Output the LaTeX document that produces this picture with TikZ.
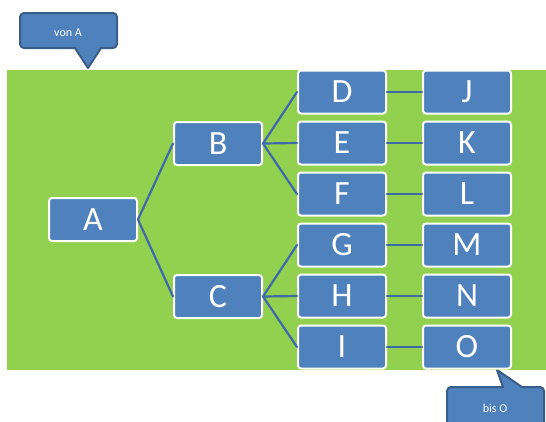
\documentclass[tikz,border=0pt]{standalone}
\usepackage{fontspec}
\setmainfont{Carlito}
\usepackage{tikz}
\definecolor{gruen}{HTML}{92D050}
\definecolor{blau}{HTML}{4F81BD}
\definecolor{dunkelblau}{HTML}{385D8A}
\definecolor{linienblau}{RGB}{65,105,170}
\tikzset{
  kasten/.style={draw=white,line width=2pt,fill=blau,rounded corners=3pt,
    minimum width=88pt,minimum height=43pt,inner sep=0pt,text=white,
    font=\fontsize{34}{36}\selectfont},
  linie/.style={draw=linienblau,line width=2.2pt},
  sprechblase/.style={draw=dunkelblau,fill=blau,line width=2pt}
}
\begin{document}
\begin{tikzpicture}[line cap=round,line join=round,x=1pt,y=-1pt]

		\clip (0,0) rectangle (546,421);

		%Hintergrund
		\fill[gruen] (7,70) rectangle (546,370);

		%Sprechblasen
		\draw[sprechblase] (88,68) -- (101,48) [rounded corners=4pt] -- (117,48) -- (117,13) -- (20,13) -- (20,48) [sharp corners] -- (75,48) -- cycle;
		\node[text=white,font=\fontsize{12}{14}\selectfont] (vonA) at (68,33) {von A};

		\draw[sprechblase] (497,370) -- (522,387) [rounded corners=4pt] -- (544,387) -- (544,440) -- (447,440) -- (447,387) [sharp corners] -- (503,387) -- cycle;
		\node[text=white,font=\fontsize{12}{14}\selectfont] (bisO) at (495,408) {bis O};

		% Baum
		\node[kasten] (a) at (93,219.5) {A};
		\node[kasten] (b) at (218,143.5) {B};
		\node[kasten] (c) at (218,296.5) {C};

		\foreach \n/\t [count=\i from 0] in {d/D,e/E,f/F,g/G,h/H,i/I}
		{\node[kasten] (\n) at (342,92+51*\i) {\t};}

		\foreach \n/\t [count=\i from 0] in {j/J,k/K,l/L,m/M,n/N,o/O}
		{\node[kasten] (\n) at (467,92+51*\i) {\t};}

		%Verbindungen
		\draw[linie] (a.east) -- (b.west);
		\draw[linie] (a.east) -- (c.west);

		\foreach \p/\k in {b/d,b/e,b/f,c/g,c/h,c/i}
		{\draw[linie] (\p.east) -- (\k.west);}

		\foreach \l/\r in {d/j,e/k,f/l,g/m,h/n,i/o}
		{\draw[linie] (\l.east) -- (\r.west);}

	\end{tikzpicture}
\end{document}
